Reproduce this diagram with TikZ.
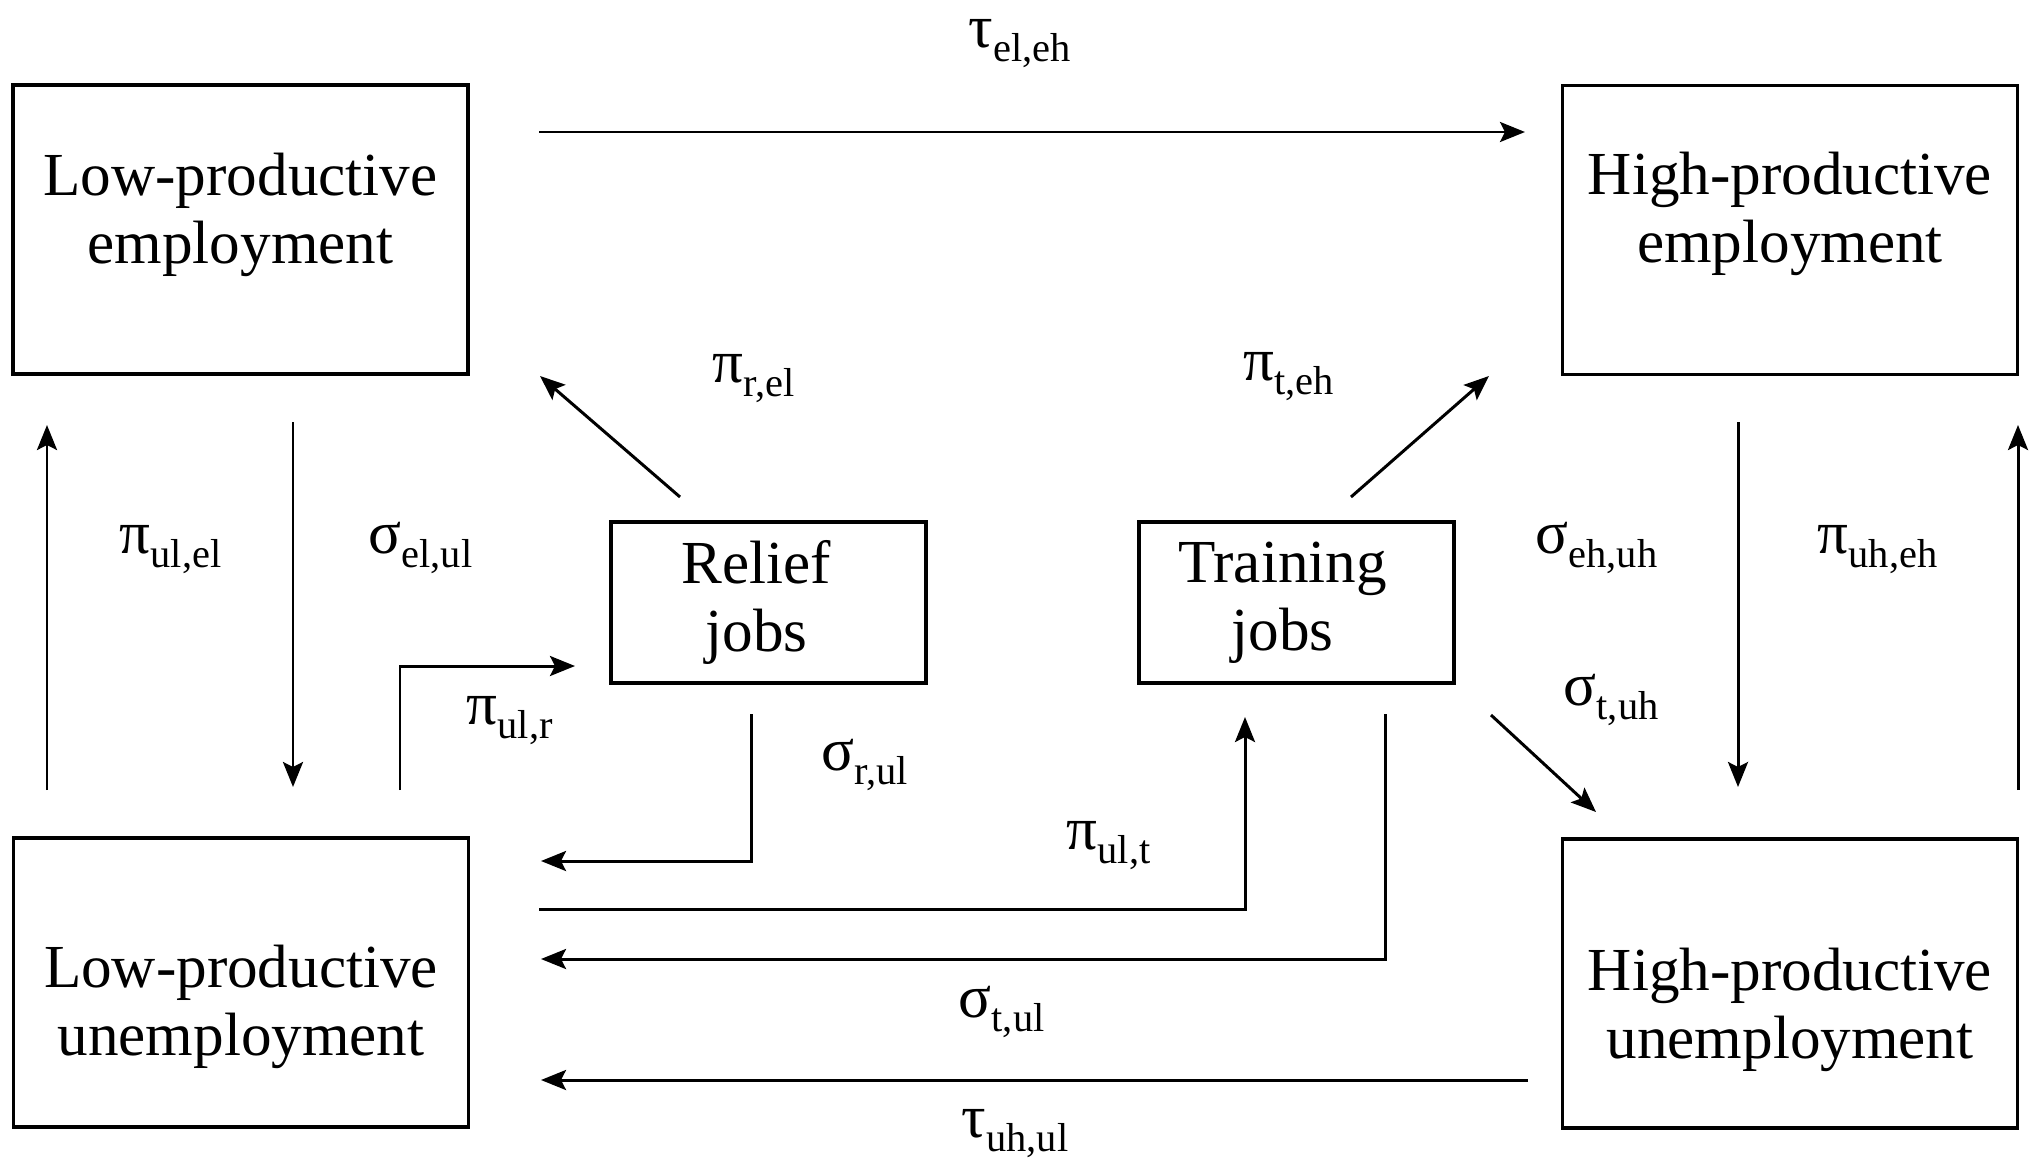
\documentclass[tikz,border=0pt]{standalone}
\usepackage{fontspec}
\setmainfont{Liberation Serif}
\usetikzlibrary{arrows.meta}
\newcommand{\rate}[2]{#1\raisebox{-0.14cm}{\fontsize{11.5}{12}\selectfont #2}}
\tikzset{
	bigbox/.style={draw, line width=1pt, minimum width=4.55cm, minimum height=2.89cm, inner sep=0pt},
	jobbox/.style={draw, line width=1pt, minimum width=3.15cm, minimum height=1.61cm, inner sep=0pt},
	boxtext/.style={align=center, inner sep=0pt},
	ratelab/.style={anchor=base west, inner sep=0pt},
	flow/.style={line width=0.85pt, -{Stealth[length=0.25cm,width=0.2cm,inset=0.05cm]}}
}
\begin{document}
\begin{tikzpicture}[font=\fontsize{17.4}{19.3}\selectfont]
	\useasboundingbox (0,0) rectangle (20.29,11.59);
	\node[bigbox] (lpe) at (2.405,9.295) {};
	\node[bigbox] (hpe) at (17.90,9.29) {};
	\node[bigbox] (lpu) at (2.41,1.765) {};
	\node[bigbox] (hpu) at (17.90,1.755) {};
	\node[jobbox] (relief) at (7.685,5.565) {};
	\node[jobbox] (train) at (12.965,5.565) {};
	\node[boxtext] (lpetxt) at ([yshift=0.15cm]lpe.center) {Low-productive\\employment};
	\node[boxtext] (hpetxt) at ([yshift=0.16cm]hpe.center) {High-productive\\employment};
	\node[boxtext] (lputxt) at ([yshift=-0.24cm]lpu.center) {Low-productive\\unemployment};
	\node[boxtext] (hputxt) at ([yshift=-0.26cm]hpu.center) {High-productive\\unemployment};
	\node[boxtext] (relieftxt) at ([xshift=-0.12cm]relief.center) {Relief\\jobs};
	\node[boxtext] (traintxt) at ([xshift=-0.14cm]train.center) {Training\\jobs};
	\coordinate (tel) at (5.39,10.27);
	\coordinate (teh) at (15.25,10.27);
	\coordinate (rout) at (6.80,6.62);
	\coordinate (rin) at (5.40,7.83);
	\coordinate (tout) at (13.51,6.62);
	\coordinate (tin) at (14.89,7.83);
	\coordinate (ulup1) at (0.47,3.69);
	\coordinate (ulup2) at (0.47,7.34);
	\coordinate (eldn1) at (2.93,7.37);
	\coordinate (eldn2) at (2.93,3.72);
	\coordinate (ehdn1) at (17.38,7.37);
	\coordinate (ehdn2) at (17.38,3.72);
	\coordinate (uhup1) at (20.18,3.69);
	\coordinate (uhup2) at (20.18,7.34);
	\coordinate (ulr1) at (4.00,3.69);
	\coordinate (ulr2) at (4.00,4.93);
	\coordinate (ulr3) at (5.75,4.93);
	\coordinate (rul1) at (7.51,4.45);
	\coordinate (rul2) at (7.51,2.98);
	\coordinate (rul3) at (5.41,2.98);
	\coordinate (ult1) at (5.39,2.50);
	\coordinate (ult2) at (12.45,2.50);
	\coordinate (ult3) at (12.45,4.42);
	\coordinate (tul1) at (13.85,4.45);
	\coordinate (tul2) at (13.85,2.00);
	\coordinate (tul3) at (5.41,2.00);
	\coordinate (tuh1) at (14.91,4.44);
	\coordinate (tuh2) at (15.96,3.47);
	\coordinate (uhul1) at (15.28,0.79);
	\coordinate (uhul2) at (5.41,0.79);
	\draw[flow] (tel) -- (teh);
	\draw[flow] (rout) -- (rin);
	\draw[flow] (tout) -- (tin);
	\draw[flow] (ulup1) -- (ulup2);
	\draw[flow] (eldn1) -- (eldn2);
	\draw[flow] (ehdn1) -- (ehdn2);
	\draw[flow] (uhup1) -- (uhup2);
	\draw[flow] (ulr1) -- (ulr2) -- (ulr3);
	\draw[flow] (rul1) -- (rul2) -- (rul3);
	\draw[flow] (ult1) -- (ult2) -- (ult3);
	\draw[flow] (tul1) -- (tul2) -- (tul3);
	\draw[flow] (tuh1) -- (tuh2);
	\draw[flow] (uhul1) -- (uhul2);
	\node[ratelab] (ltelh) at (9.68,11.12) {\rate{τ}{el,eh}};
	\node[ratelab] (lprel) at (7.12,7.77) {\rate{π}{r,el}};
	\node[ratelab] (lpteh) at (12.43,7.79) {\rate{π}{t,eh}};
	\node[ratelab] (lpulel) at (1.19,6.06) {\rate{π}{ul,el}};
	\node[ratelab] (lselul) at (3.68,6.06) {\rate{σ}{el,ul}};
	\node[ratelab] (lsehuh) at (15.35,6.06) {\rate{σ}{eh,uh}};
	\node[ratelab] (lpuheh) at (18.17,6.06) {\rate{π}{uh,eh}};
	\node[ratelab] (lpulr) at (4.66,4.35) {\rate{π}{ul,r}};
	\node[ratelab] (lsrul) at (8.21,3.89) {\rate{σ}{r,ul}};
	\node[ratelab] (lstuh) at (15.63,4.54) {\rate{σ}{t,uh}};
	\node[ratelab] (lpult) at (10.66,3.10) {\rate{π}{ul,t}};
	\node[ratelab] (lstul) at (9.58,1.42) {\rate{σ}{t,ul}};
	\node[ratelab] (ltuhul) at (9.61,0.22) {\rate{τ}{uh,ul}};
\end{tikzpicture}
\end{document}
